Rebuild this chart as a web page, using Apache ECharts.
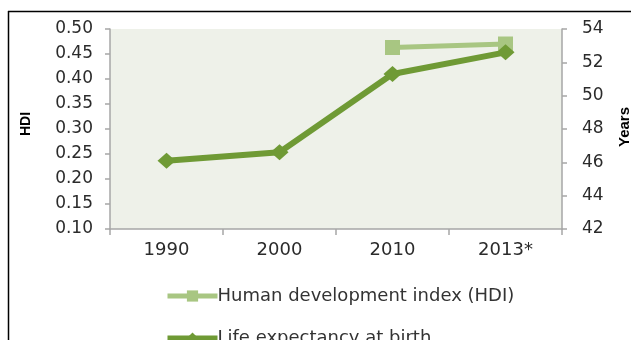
<!DOCTYPE html>
<html><head><meta charset="utf-8">
<script src="https://cdn.jsdelivr.net/npm/echarts@6/dist/echarts.min.js"></script>
<style>html,body{margin:0;padding:0;background:#fff}#c{width:631px;height:340px}</style>
</head><body><div id="c"></div>
<script>
var categories = ['1990', '2000', '2010', '2013*'];
var hdiValues = [null, null, 0.463, 0.470];
var lifeValues = [46.1, 46.6, 51.3, 52.6];
var hdiTicks = {min: 0.10, max: 0.50, step: 0.05};
var yearTicks = {min: 42, max: 54, step: 2};
var seriesNames = ['Human development index (HDI)', 'Life expectancy at birth'];

var chart = echarts.init(document.getElementById('c'), null, {renderer: 'canvas'});
var font = 'DejaVu Sans';
function legendFor(name, top) {
  return {
    orient: 'vertical', left: 160, top: top, itemGap: 0, itemWidth: 50, itemHeight: 14,
    lineStyle: {width: 5},
    textStyle: {color: '#333', fontFamily: font, fontSize: 18, padding: [0, 0, 0, -5]},
    data: [name]
  };
}
chart.setOption({
  animation: false,
  backgroundColor: '#ffffff',
  grid: {left: 110, right: 69, top: 29, bottom: 111, show: true, backgroundColor: '#eef1e9', borderWidth: 0},
  xAxis: {
    type: 'category', data: categories, boundaryGap: true,
    axisLine: {lineStyle: {color: '#a6a6a6', width: 1.5}},
    axisTick: {show: true, length: 6, lineStyle: {color: '#a6a6a6', width: 1.5}},
    axisLabel: {color: '#2b2b2b', fontFamily: font, fontSize: 18, margin: 12}
  },
  yAxis: [{
    type: 'value', position: 'left', min: hdiTicks.min, max: hdiTicks.max, interval: hdiTicks.step,
    splitLine: {show: false},
    axisLine: {show: true, lineStyle: {color: '#a6a6a6', width: 1.5}},
    axisTick: {show: true, length: 5, lineStyle: {color: '#a6a6a6', width: 1.5}},
    axisLabel: {color: '#2b2b2b', fontFamily: font, fontSize: 17, margin: 17, formatter: function (v) { return v.toFixed(2); }}
  }, {
    type: 'value', position: 'right', min: yearTicks.min, max: yearTicks.max, interval: yearTicks.step,
    splitLine: {show: false},
    axisLine: {show: true, lineStyle: {color: '#a6a6a6', width: 1.5}},
    axisTick: {show: true, length: 5, lineStyle: {color: '#a6a6a6', width: 1.5}},
    axisLabel: {color: '#2b2b2b', fontFamily: font, fontSize: 17, margin: 20}
  }],
  legend: [legendFor(seriesNames[0], 282), legendFor(seriesNames[1], 324)],
  series: [{
    name: seriesNames[0], type: 'line', yAxisIndex: 0, data: hdiValues,
    symbol: 'rect', symbolSize: 15, showSymbol: true,
    lineStyle: {color: '#a8c682', width: 5},
    itemStyle: {color: '#a8c682'}
  }, {
    name: seriesNames[1], type: 'line', yAxisIndex: 1, data: lifeValues,
    symbol: 'diamond', symbolSize: [18, 16], showSymbol: true,
    lineStyle: {color: '#6f9a35', width: 6},
    itemStyle: {color: '#6f9a35'}
  }],
  graphic: [
    {type: 'line', shape: {x1: 8, y1: 11.5, x2: 631, y2: 11.5}, style: {stroke: '#000', lineWidth: 1.5}},
    {type: 'line', shape: {x1: 8.5, y1: 11, x2: 8.5, y2: 340}, style: {stroke: '#000', lineWidth: 1.5}},
    {type: 'text', x: 26, y: 124, rotation: Math.PI / 2,
     style: {text: 'HDI', fill: '#000', font: 'bold 14px "Liberation Sans"', textAlign: 'center', textVerticalAlign: 'middle'}},
    {type: 'text', x: 625, y: 127, rotation: Math.PI / 2,
     style: {text: 'Years', fill: '#000', font: 'bold 15px "Liberation Sans"', textAlign: 'center', textVerticalAlign: 'middle'}}
  ]
});
</script></body></html>
